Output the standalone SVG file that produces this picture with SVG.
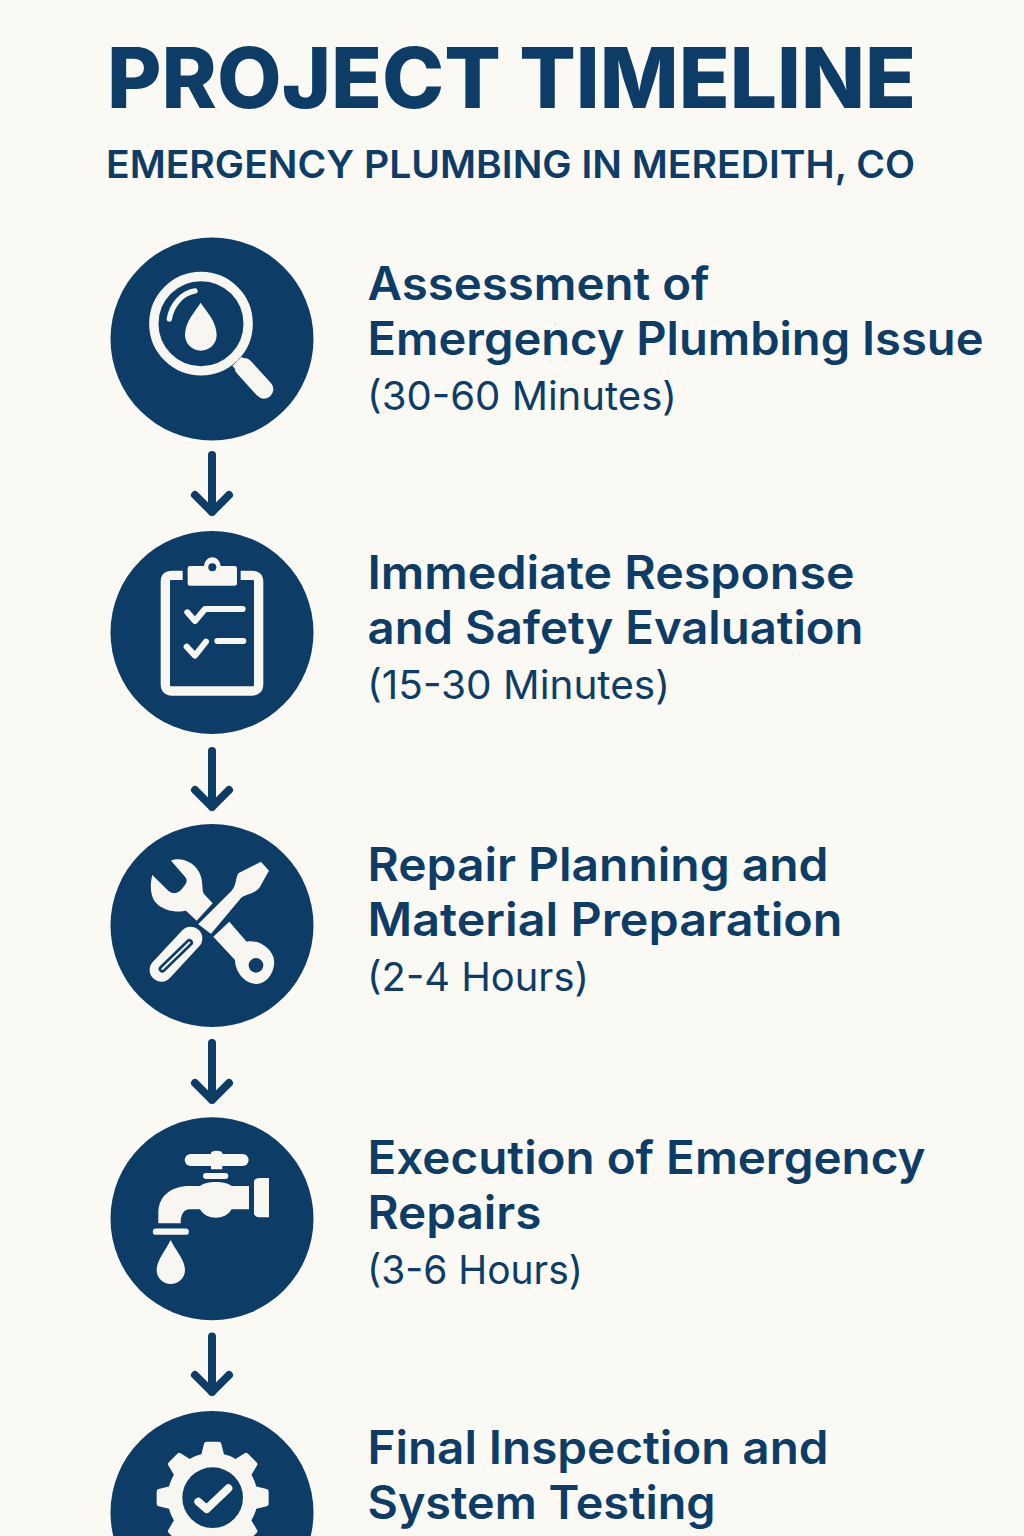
<svg xmlns="http://www.w3.org/2000/svg" width="1024" height="1536" viewBox="0 0 1024 1536">
<style>
.bg{fill:#fbf9f4}
.disc{fill:#0d3d67}
.l{fill:#f8f6f1}
.ls{fill:none;stroke:#f8f6f1;stroke-linecap:round;stroke-linejoin:round}
.ds{fill:none;stroke:#0d3d67;stroke-linecap:round}
text{font-family:Inter,"Liberation Sans",sans-serif;fill:#0d3d67}
.h1{font-size:84px;font-weight:800}
.h2{font-size:38px;font-weight:600}
.t{font-size:46px;font-weight:600}
.s{font-size:39px;font-weight:400}
.arrow{fill:none;stroke:#0d3d67;stroke-width:8;stroke-linecap:round;stroke-linejoin:round}
</style>
<rect class="bg" width="1024" height="1536"/>
<g id="header">
<text class="h1" x="107" y="108" textLength="809" lengthAdjust="spacingAndGlyphs">PROJECT TIMELINE</text>
<text class="h2" x="106" y="178" textLength="809" lengthAdjust="spacingAndGlyphs">EMERGENCY PLUMBING IN MEREDITH, CO</text>
</g>
<g id="connectors">
<path class="arrow" d="M212 455V512M195 495L212 512L229 495"/>
<path class="arrow" d="M212 751V807M195 790L212 807L229 790"/>
<path class="arrow" d="M212 1043V1100M195 1083L212 1100L229 1083"/>
<path class="arrow" d="M212 1336.500V1392M195 1375L212 1392L229 1375"/>
</g>
<g id="step1">
<circle class="disc" cx="212" cy="339" r="101.500"/>
<g transform="translate(100 230) scale(.3333)">
<circle cx="303" cy="281" r="141.500" fill="none" stroke="#f8f6f1" stroke-width="28"/>
<path class="ls" d="M208 267C215 225 245 190 285 183" stroke-width="16"/>
<path class="l" d="M302 218C285 245 255 275 255 315C255 342 278 362 302 362C328 362 350 342 350 315C350 275 320 245 302 218Z"/>
<path class="l" d="M397 408L425 380L445 400L417 428Z"/>
<path class="ls" d="M432 412L492 478" stroke-width="56"/>
</g>
<text class="t" x="367.500" y="300" textLength="342" lengthAdjust="spacingAndGlyphs">Assessment of</text>
<text class="t" x="367.500" y="355" textLength="616" lengthAdjust="spacingAndGlyphs">Emergency Plumbing Issue</text>
<text class="s" x="367" y="410" textLength="310" lengthAdjust="spacingAndGlyphs">(30-60 Minutes)</text>
</g>
<g id="step2">
<circle class="disc" cx="212" cy="632.500" r="101.500"/>
<g transform="translate(100 525) scale(.3333)">
<path class="ls" d="M248 151H215Q196 151 196 170V478Q196 498 215 498H456Q476 498 476 478V170Q476 151 456 151H422" stroke-width="28" style="stroke-linecap:butt"/>
<path class="l" d="M270 123H312C316 88 358 88 362 123H404Q411 123 411 130V174Q411 182 404 182H270Q263 182 263 174V130Q263 123 270 123Z"/>
<circle class="disc" cx="337" cy="127" r="12"/>
<path class="ls" d="M262 262L285 288L315 252H428" stroke-width="18"/>
<path class="ls" d="M260 365L285 392L318 350" stroke-width="18"/>
<path class="ls" d="M352 348H430" stroke-width="18"/>
</g>
<text class="t" x="367.500" y="589" textLength="487" lengthAdjust="spacingAndGlyphs">Immediate Response</text>
<text class="t" x="367.500" y="644" textLength="496" lengthAdjust="spacingAndGlyphs">and Safety Evaluation</text>
<text class="s" x="367" y="699" textLength="303" lengthAdjust="spacingAndGlyphs">(15-30 Minutes)</text>
</g>
<g id="step3">
<circle class="disc" cx="212" cy="925.500" r="101.500"/>
<g transform="translate(100 820) scale(.3333)">
<path class="l" d="M213 122C240 110 290 125 303 170C310 195 305 210 312 222L338 250L290 302L258 272C235 278 190 275 165 245C150 225 150 190 157 165L205 212C215 222 232 222 243 210L255 195C262 185 262 178 255 170Z"/>
<path class="l" fill-rule="evenodd" d="M388 305L340 350L405 420C405 445 425 490 470 492C510 490 530 440 520 410C505 375 470 360 440 365ZM490 436A22 22 0 1 0 446 436A22 22 0 1 0 490 436Z"/>
<path class="l" d="M483 125L507 152L480 200C465 222 440 222 425 232L330 345L292 315L395 212C410 195 405 180 415 160Z"/>
<path d="M272 355L184 450" stroke="#f8f6f1" stroke-width="70" stroke-linecap="round" fill="none"/>
<path class="ds" d="M187 447L268 368" stroke-width="22"/>
<path class="ls" d="M187 447L268 368" stroke-width="6"/>
<path d="M334 347L288 312" fill="none" stroke="#0d3d67" stroke-width="7"/>
</g>
<text class="t" x="367.500" y="881" textLength="461" lengthAdjust="spacingAndGlyphs">Repair Planning and</text>
<text class="t" x="367.500" y="936" textLength="475" lengthAdjust="spacingAndGlyphs">Material Preparation</text>
<text class="s" x="367" y="991" textLength="222" lengthAdjust="spacingAndGlyphs">(2-4 Hours)</text>
</g>
<g id="step4">
<circle class="disc" cx="212" cy="1218.700" r="101.500"/>
<g transform="translate(100 1110) scale(.3333)">
<path class="ls" d="M272 150H428" stroke-width="36"/>
<path class="l" d="M333 178V130Q333 122 350 122Q367 122 367 130V178Z"/>
<path class="ls" d="M318 198H376" stroke-width="18"/>
<path class="l" d="M175 340V310C175 260 210 228 270 228H300C320 212 375 212 395 228H447V298H395C375 332 320 332 300 298H270C250 298 242 315 242 340Z"/>
<path class="l" d="M462 215Q462 205 480 204H507V322H480Q462 320 462 310Z"/>
<path class="ls" d="M168 365H257" stroke-width="19"/>
<path class="l" d="M212 390C198 420 170 450 170 480C170 505 190 522 212 522C235 522 255 505 255 480C255 450 226 420 212 390Z"/>
</g>
<text class="t" x="367.500" y="1174" textLength="558" lengthAdjust="spacingAndGlyphs">Execution of Emergency</text>
<text class="t" x="367.500" y="1229" textLength="174" lengthAdjust="spacingAndGlyphs">Repairs</text>
<text class="s" x="367" y="1284" textLength="216" lengthAdjust="spacingAndGlyphs">(3-6 Hours)</text>
</g>
<g id="step5">
<circle class="disc" cx="212" cy="1512.500" r="101.500"/>
<g transform="translate(100 1330) scale(.3333)">
<g transform="translate(338 503)">
<circle class="l" r="135"/>
<path class="l" d="M-35 -125L-26 -162Q-25 -168 -18 -168H18Q25 -168 26 -162L35 -125Z"/>
<path class="l" transform="rotate(45)" d="M-35 -125L-26 -162Q-25 -168 -18 -168H18Q25 -168 26 -162L35 -125Z"/>
<path class="l" transform="rotate(90)" d="M-35 -125L-26 -162Q-25 -168 -18 -168H18Q25 -168 26 -162L35 -125Z"/>
<path class="l" transform="rotate(135)" d="M-35 -125L-26 -162Q-25 -168 -18 -168H18Q25 -168 26 -162L35 -125Z"/>
<path class="l" transform="rotate(225)" d="M-35 -125L-26 -162Q-25 -168 -18 -168H18Q25 -168 26 -162L35 -125Z"/>
<path class="l" transform="rotate(270)" d="M-35 -125L-26 -162Q-25 -168 -18 -168H18Q25 -168 26 -162L35 -125Z"/>
<path class="l" transform="rotate(315)" d="M-35 -125L-26 -162Q-25 -168 -18 -168H18Q25 -168 26 -162L35 -125Z"/>
<circle class="disc" r="91"/>
</g>
<path class="ls" d="M295 515L320 537L385 475" stroke-width="24"/>
</g>
<text class="t" x="367.500" y="1464" textLength="461" lengthAdjust="spacingAndGlyphs">Final Inspection and</text>
<text class="t" x="367.500" y="1519" textLength="348" lengthAdjust="spacingAndGlyphs">System Testing</text>
</g>
</svg>
